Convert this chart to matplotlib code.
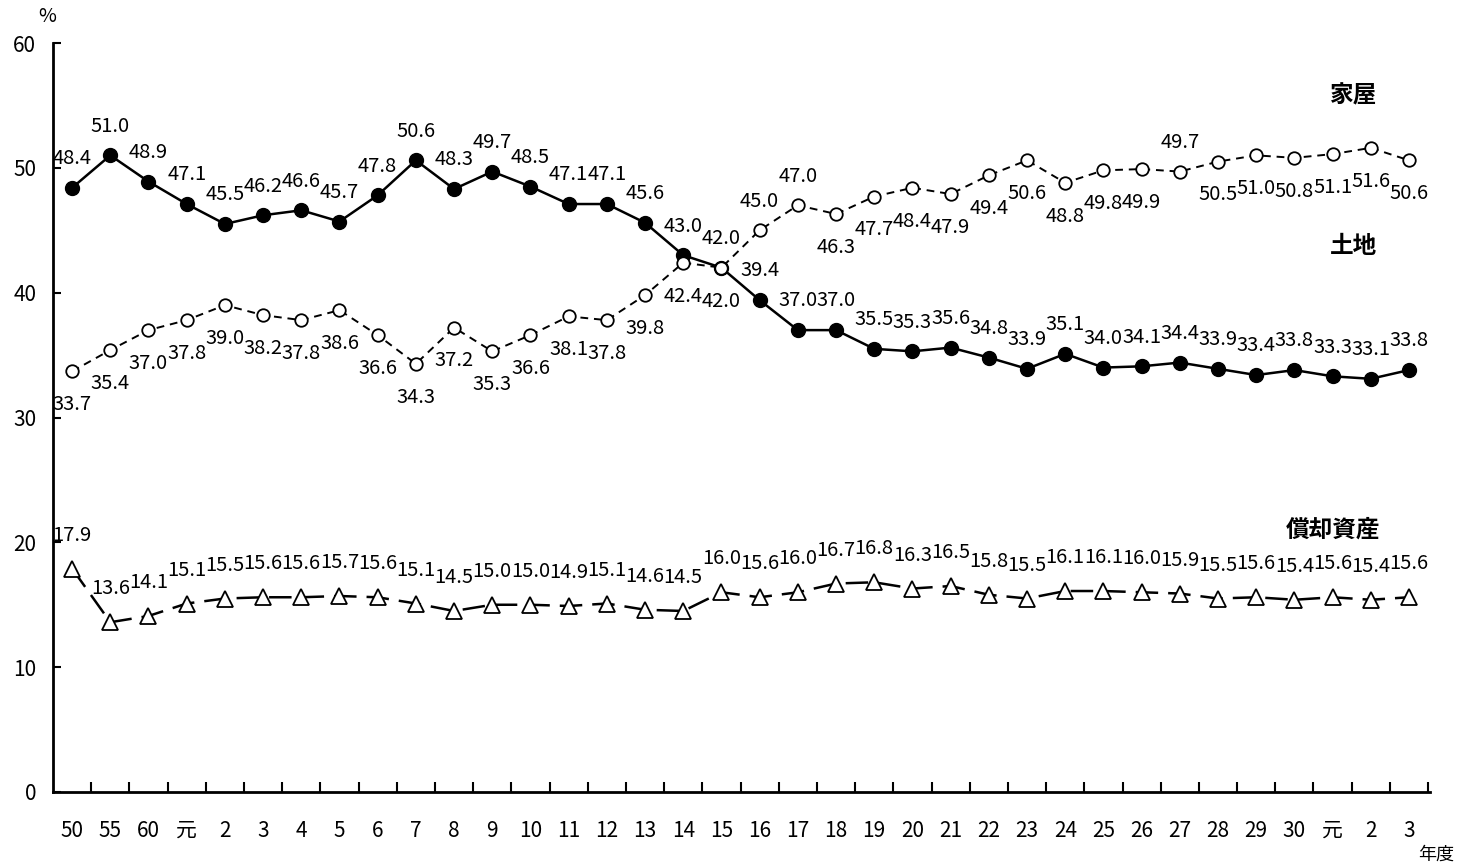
import matplotlib
matplotlib.use("Agg")
import matplotlib.pyplot as plt
from matplotlib.ticker import MultipleLocator, FixedLocator

plt.rcParams["font.family"] = ["Noto Sans CJK JP", "DejaVu Sans"]

years = ["50", "55", "60", "元", "2", "3", "4", "5", "6", "7", "8", "9", "10",
         "11", "12", "13", "14", "15", "16", "17", "18", "19", "20", "21", "22",
         "23", "24", "25", "26", "27", "28", "29", "30", "元", "2", "3"]

land = [48.4, 51.0, 48.9, 47.1, 45.5, 46.2, 46.6, 45.7, 47.8, 50.6, 48.3, 49.7,
        48.5, 47.1, 47.1, 45.6, 43.0, 42.0, 39.4, 37.0, 37.0, 35.5, 35.3, 35.6,
        34.8, 33.9, 35.1, 34.0, 34.1, 34.4, 33.9, 33.4, 33.8, 33.3, 33.1, 33.8]

house = [33.7, 35.4, 37.0, 37.8, 39.0, 38.2, 37.8, 38.6, 36.6, 34.3, 37.2, 35.3,
         36.6, 38.1, 37.8, 39.8, 42.4, 42.0, 45.0, 47.0, 46.3, 47.7, 48.4, 47.9,
         49.4, 50.6, 48.8, 49.8, 49.9, 49.7, 50.5, 51.0, 50.8, 51.1, 51.6, 50.6]

depr = [17.9, 13.6, 14.1, 15.1, 15.5, 15.6, 15.6, 15.7, 15.6, 15.1, 14.5, 15.0,
        15.0, 14.9, 15.1, 14.6, 14.5, 16.0, 15.6, 16.0, 16.7, 16.8, 16.3, 16.5,
        15.8, 15.5, 16.1, 16.1, 16.0, 15.9, 15.5, 15.6, 15.4, 15.6, 15.4, 15.6]

# house labels that sit above the point (the rest go below)
house_above = {18, 19, 29}

x = list(range(len(years)))

fig = plt.figure(figsize=(14.68, 8.68), dpi=100)
ax = fig.add_axes([53 / 1468, 1 - 792 / 868, 1377 / 1468, 749 / 868])

ax.plot(x, land, color="black", lw=1.8, marker="o", ms=10,
        mfc="black", mec="black", zorder=3)
ax.plot(x, house, color="black", lw=1.4, ls=(0, (4, 3)), marker="o", ms=9,
        mfc="white", mec="black", mew=1.3, zorder=3)
ax.plot(x, depr, color="black", lw=1.8, ls=(0, (9, 4)), marker="^", ms=11,
        mfc="white", mec="black", mew=1.3, zorder=3)

lab_fs = 14.5
for i, v in enumerate(land):
    ax.annotate("%.1f" % v, (i, v), xytext=(0, 21), textcoords="offset points",
                ha="center", va="center", fontsize=lab_fs)
for i, v in enumerate(house):
    dy = 21 if i in house_above else -24
    ax.annotate("%.1f" % v, (i, v), xytext=(0, dy), textcoords="offset points",
                ha="center", va="center", fontsize=lab_fs)
for i, v in enumerate(depr):
    ax.annotate("%.1f" % v, (i, v), xytext=(0, 24), textcoords="offset points",
                ha="center", va="center", fontsize=lab_fs)

ax.text(33.55, 55.8, "家屋", ha="center", va="center", fontsize=17, fontweight="bold")
ax.text(33.55, 43.7, "土地", ha="center", va="center", fontsize=17, fontweight="bold")
ax.text(33.0, 21.0, "償却資産", ha="center", va="center", fontsize=17, fontweight="bold")

ax.set_xlim(-0.5, 35.55)
ax.set_ylim(0, 60)
ax.yaxis.set_major_locator(MultipleLocator(10))
ax.set_xticks(x)
ax.set_xticklabels(years, fontsize=15)
ax.xaxis.set_minor_locator(FixedLocator([i + 0.5 for i in x]))
ax.tick_params(axis="x", which="major", length=0, pad=20)
ax.tick_params(axis="x", which="minor", direction="in", length=7, width=1.5)
ax.tick_params(axis="y", direction="in", length=6, width=1.5, labelsize=15, pad=12)

ax.spines["top"].set_visible(False)
ax.spines["right"].set_visible(False)
ax.spines["left"].set_linewidth(2)
ax.spines["bottom"].set_linewidth(2)

fig.text(47 / 1468, 1 - 17 / 868, "%", ha="center", va="center", fontsize=14)
fig.text(1436 / 1468, 1 - 855 / 868, "年度", ha="center", va="center", fontsize=13)

plt.savefig("out.png", dpi=100)
